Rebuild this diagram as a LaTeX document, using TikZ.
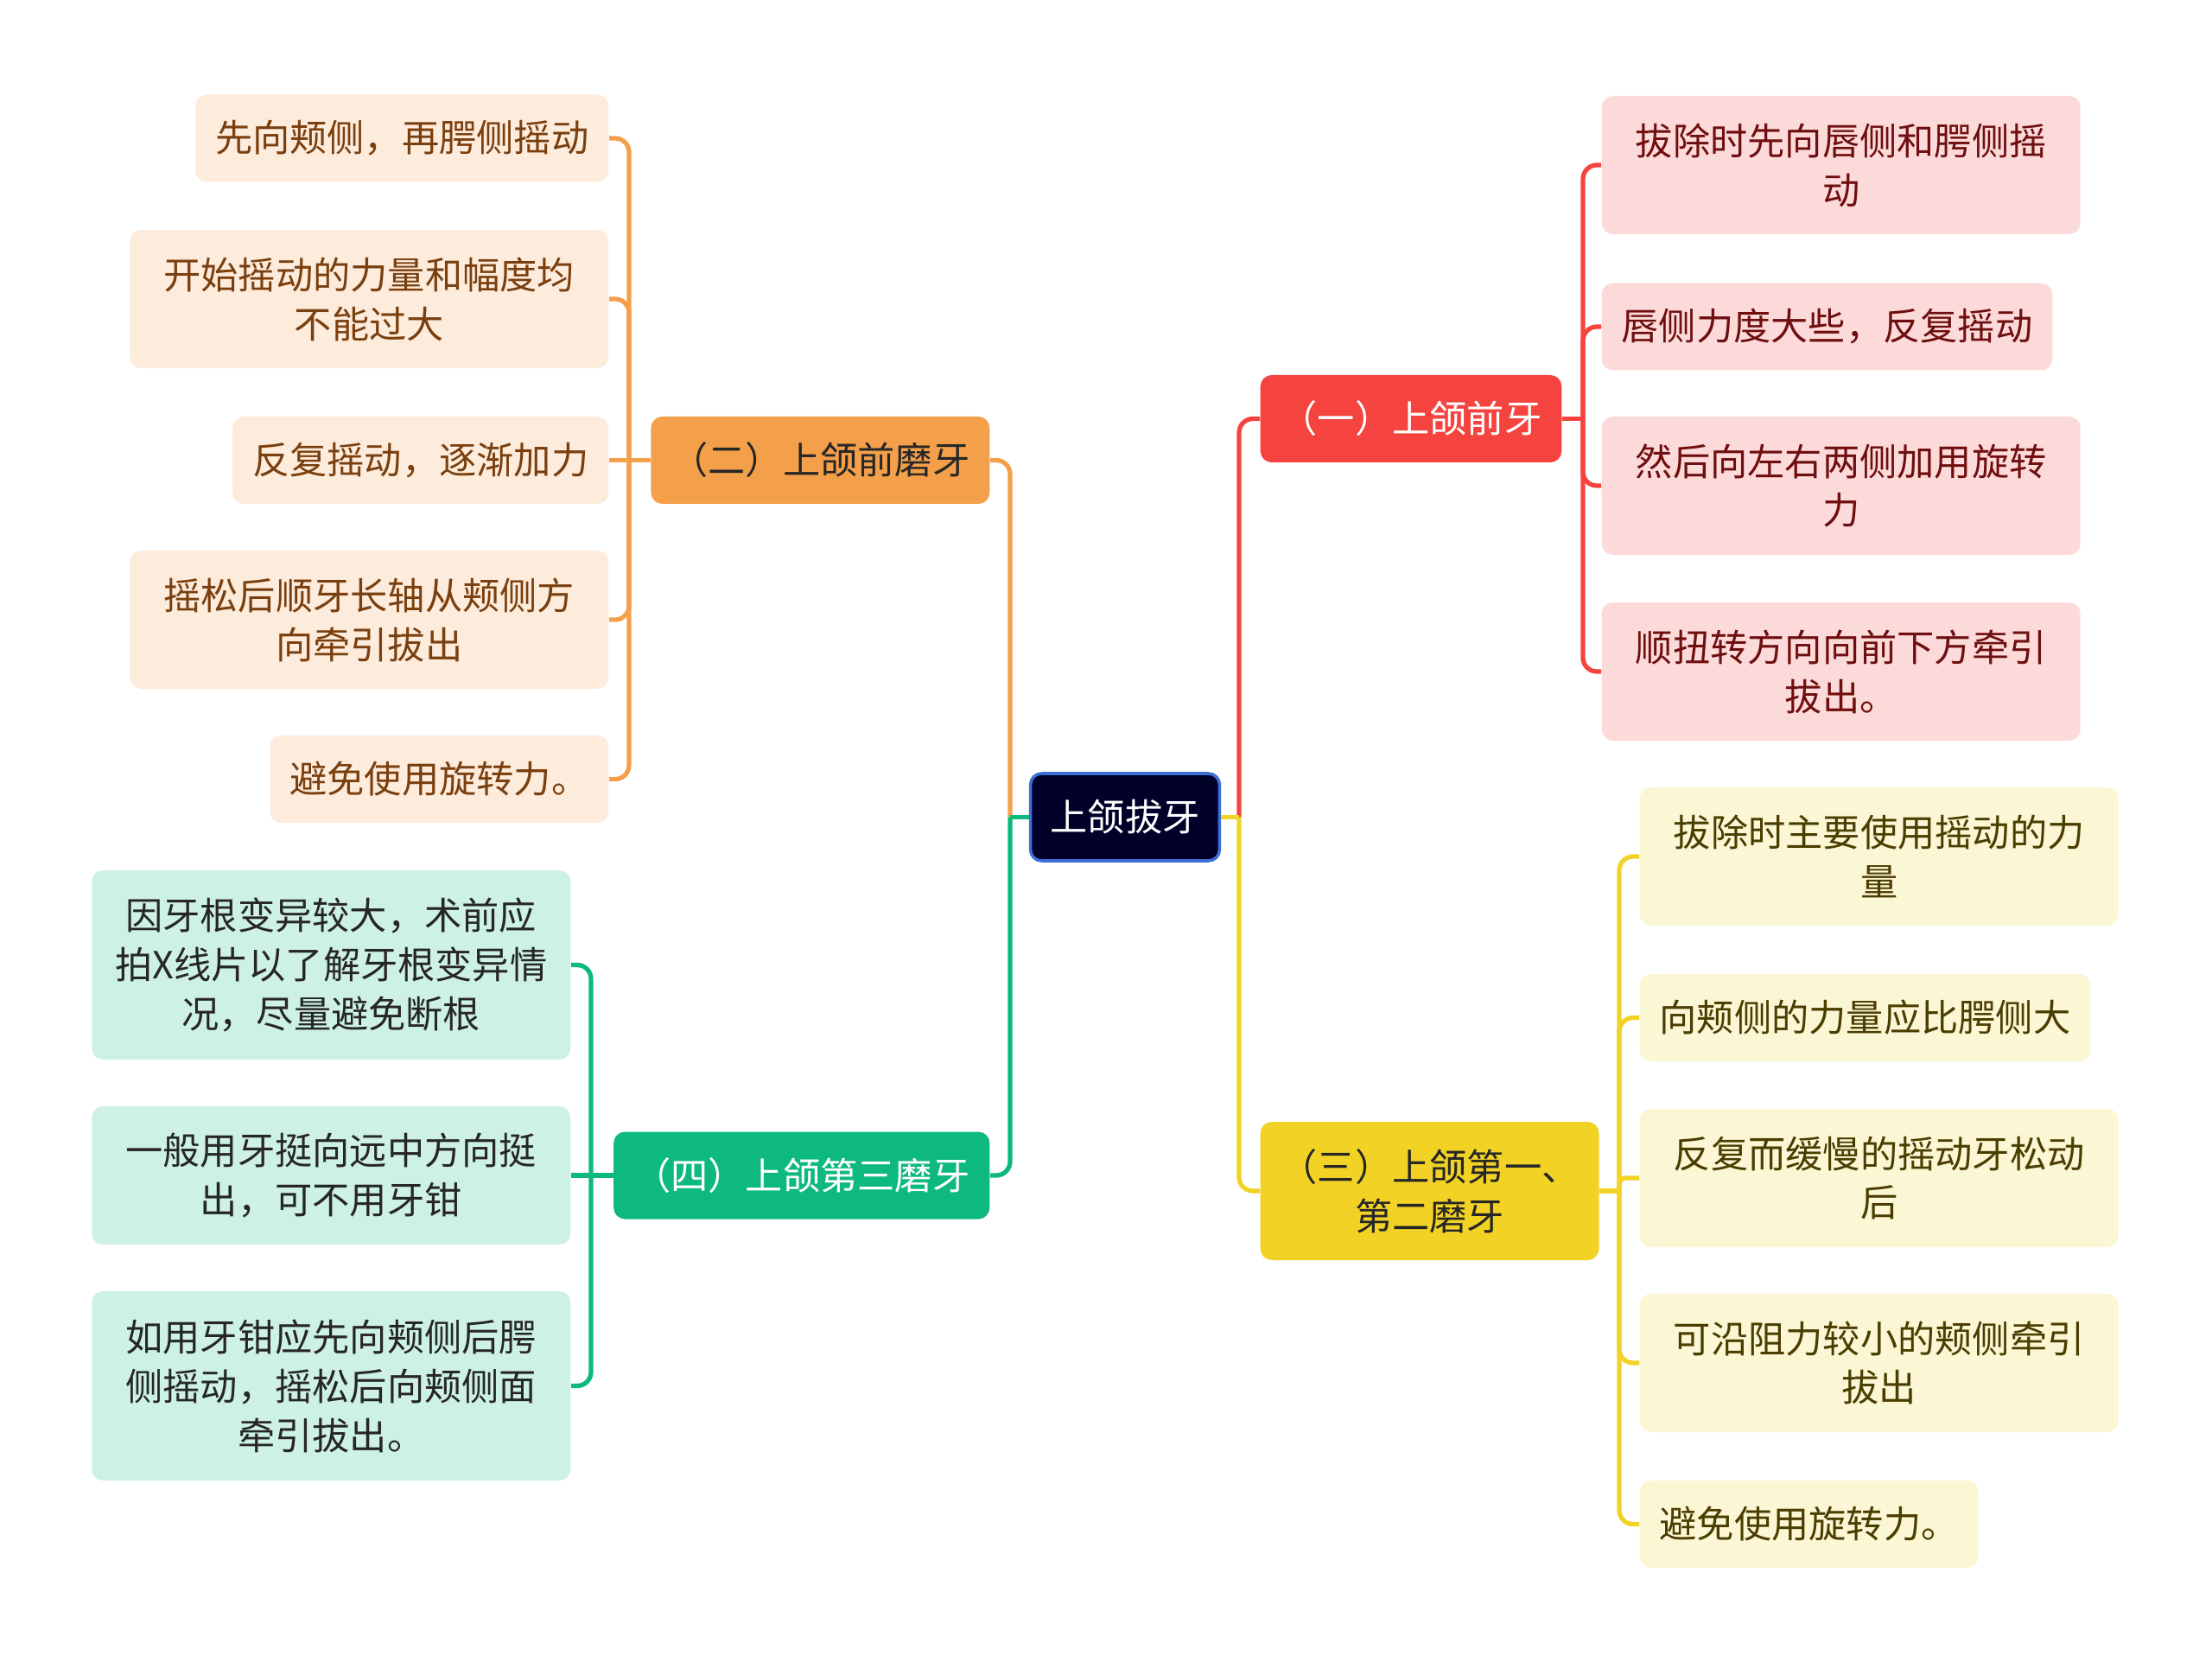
\documentclass[tikz,border=0pt]{standalone}
\usepackage{fontspec}
\setmainfont{Noto Sans CJK SC}
\usepackage{xcolor}
\usepackage{tikz}
\usetikzlibrary{positioning}
\definecolor{rootfill}{RGB}{0,0,40}
\definecolor{rootedge}{RGB}{59,111,214}
\definecolor{redmain}{RGB}{245,68,63}
\definecolor{redsoft}{RGB}{253,218,218}
\definecolor{redtext}{RGB}{110,14,14}
\definecolor{orangemain}{RGB}{244,160,75}
\definecolor{orangesoft}{RGB}{253,235,220}
\definecolor{orangetext}{RGB}{122,63,14}
\definecolor{yellowmain}{RGB}{242,211,37}
\definecolor{yellowsoft}{RGB}{251,246,212}
\definecolor{yellowtext}{RGB}{74,61,0}
\definecolor{greenmain}{RGB}{13,185,124}
\definecolor{greensoft}{RGB}{205,241,226}
\tikzstyle{box} = [rectangle, rounded corners=0.13cm, inner xsep=0.23cm, inner ysep=0.1cm, align=center, font=\fontsize{12.3}{16.2}\selectfont, minimum height=1.01cm]
\tikzstyle{wide} = [minimum width=5.54cm]
\tikzstyle{two} = [minimum height=1.6cm]
\tikzstyle{three} = [minimum height=2.19cm]
\tikzstyle{link} = [line width=1.5pt, rounded corners=0.16cm]

\begin{document}
\begin{tikzpicture}
\useasboundingbox (0,0) rectangle (25.6,-19.23);

% Root
\node (root) [box, fill=rootfill, draw=rootedge, line width=1pt, text=white] at (13.02,-9.455) {上颌拔牙};

% Branches
\node (front) [box, anchor=west, fill=redmain, text=white] at (14.58,-4.845) {（一）上颌前牙};
\node (premolar) [box, anchor=east, fill=orangemain, text=black!85] at (11.46,-5.325) {（二）上颌前磨牙};
\node (molar) [box, two, anchor=west, fill=yellowmain, text=black!85] at (14.58,-13.78) {（三）上颌第一、\\第二磨牙};
\node (third) [box, anchor=east, fill=greenmain, text=white] at (11.46,-13.60) {（四）上颌第三磨牙};

% Front teeth
\node (front1) [box, wide, two, anchor=west, fill=redsoft, text=redtext] at (18.53,-1.91) {拔除时先向唇侧和腭侧摇\\动};
\node (front2) [box, anchor=west, fill=redsoft, text=redtext] at (18.53,-3.78) {唇侧力度大些，反复摇动};
\node (front3) [box, wide, two, anchor=west, fill=redsoft, text=redtext] at (18.53,-5.62) {然后向左右两侧加用旋转\\力};
\node (front4) [box, wide, two, anchor=west, fill=redsoft, text=redtext] at (18.53,-7.77) {顺扭转方向向前下方牵引\\拔出。};

% Premolars
\node (pre1) [box, anchor=east, fill=orangesoft, text=orangetext] at (7.05,-1.60) {先向颊侧，再腭侧摇动};
\node (pre2) [box, wide, two, anchor=east, fill=orangesoft, text=orangetext] at (7.05,-3.46) {开始摇动的力量和幅度均\\不能过大};
\node (pre3) [box, anchor=east, fill=orangesoft, text=orangetext] at (7.05,-5.325) {反复摇动，逐渐加力};
\node (pre4) [box, wide, two, anchor=east, fill=orangesoft, text=orangetext] at (7.05,-7.17) {摇松后顺牙长轴从颊侧方\\向牵引拔出};
\node (pre5) [box, anchor=east, fill=orangesoft, text=orangetext] at (7.05,-9.015) {避免使用旋转力。};

% First and second molars
\node (mol1) [box, wide, two, anchor=west, fill=yellowsoft, text=yellowtext] at (18.97,-9.91) {拔除时主要使用摇动的力\\量};
\node (mol2) [box, anchor=west, fill=yellowsoft, text=yellowtext] at (18.97,-11.775) {向颊侧的力量应比腭侧大};
\node (mol3) [box, wide, two, anchor=west, fill=yellowsoft, text=yellowtext] at (18.97,-13.63) {反复而缓慢的摇动牙松动\\后};
\node (mol4) [box, wide, two, anchor=west, fill=yellowsoft, text=yellowtext] at (18.97,-15.77) {可沿阻力较小的颊侧牵引\\拔出};
\node (mol5) [box, anchor=west, fill=yellowsoft, text=yellowtext] at (18.97,-17.635) {避免使用旋转力。};

% Third molars
\node (third1) [box, wide, three, anchor=east, fill=greensoft, text=black!85] at (6.61,-11.165) {因牙根变异较大，术前应\\拍X线片以了解牙根变异情\\况，尽量避免断根};
\node (third2) [box, wide, two, anchor=east, fill=greensoft, text=black!85] at (6.61,-13.60) {一般用牙挺向远中方向挺\\出，可不用牙钳};
\node (third3) [box, wide, three, anchor=east, fill=greensoft, text=black!85] at (6.61,-16.035) {如用牙钳应先向颊侧后腭\\侧摇动，摇松后向颊侧面\\牵引拔出。};

% Junctions
\coordinate (rootR) at (14.34,-9.455);
\coordinate (rootL) at (11.69,-9.455);
\coordinate (frontJ) at (18.32,-4.845);
\coordinate (preJ) at (7.28,-5.325);
\coordinate (molJ) at (18.74,-13.78);
\coordinate (thirdJ) at (6.84,-13.60);

% Connections
\draw [link, redmain] (rootR) |- (front.west);
\draw [link, yellowmain] (root.east) -- (rootR);
\draw [link, yellowmain] (rootR) |- (molar.west);
\draw [link, orangemain] (rootL) |- (premolar.east);
\draw [link, greenmain] (root.west) -- (rootL);
\draw [link, greenmain] (rootL) |- (third.east);

\draw [link, redmain] (front.east) -- (frontJ);
\foreach \n in {front1,front2,front3,front4}
  \draw [link, redmain] (frontJ) |- (\n.west);

\draw [link, orangemain] (premolar.west) -- (pre3.east);
\foreach \n in {pre1,pre2,pre4,pre5}
  \draw [link, orangemain] (preJ) |- (\n.east);

\draw [link, yellowmain] (molar.east) -- (molJ);
\draw [link, yellowmain, rounded corners=0.07cm] (molJ) |- (mol3.west);
\foreach \n in {mol1,mol2,mol4,mol5}
  \draw [link, yellowmain] (molJ) |- (\n.west);

\draw [link, greenmain] (third.west) -- (third2.east);
\foreach \n in {third1,third3}
  \draw [link, greenmain] (thirdJ) |- (\n.east);

\end{tikzpicture}
\end{document}
